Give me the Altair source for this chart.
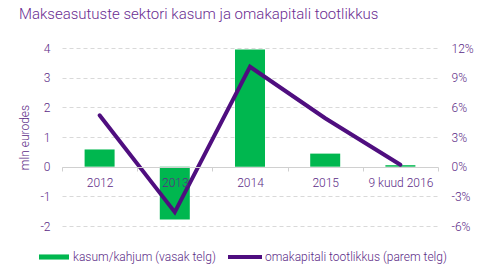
import altair as alt
import pandas as pd

categories = ["2012", "2013", "2014", "2015", "9 kuud 2016"]
kasum = [0.58, -1.78, 3.95, 0.44, 0.05]
tootlikkus = [5.2, -4.6, 10.1, 4.9, 0.2]
left_ticks = [-2, -1, 0, 1, 2, 3, 4]
right_ticks = [-6, -3, 0, 3, 6, 9, 12]
s1 = "kasum/kahjum (vasak telg)"
s2 = "omakapitali tootlikkus (parem telg)"

df = pd.DataFrame({"aasta": categories, "kasum": kasum, "tootlikkus": tootlikkus,
                   "s1": s1, "s2": s2})

FONT = "Roboto"
TXT = "#5b2a86"
GREEN = "#00b74f"
LINEC = "#4f0e7f"


def xenc():
    return alt.X("aasta:N", sort=categories, title=None,
                 scale=alt.Scale(paddingInner=0, paddingOuter=0),
                 axis=alt.Axis(orient="bottom", offset=-59, labelAngle=0,
                               domainColor="#d0d0d0", tickColor="#d0d0d0",
                               tickBand="extent", tickSize=4, labelPadding=6,
                               labelColor=TXT, labelFontSize=12, labelFont=FONT,
                               labelFontWeight=300, grid=False, zindex=1))


bars = alt.Chart(df).mark_bar(size=30).encode(
    x=xenc(),
    y=alt.Y("kasum:Q", scale=alt.Scale(domain=[-2, 4], nice=False, zero=False),
            axis=alt.Axis(values=left_ticks, title="mln eurodes", grid=True,
                          gridDash=[4, 3], gridColor="#d9d9d9", domain=False,
                          ticks=False, labelPadding=12, labelColor=TXT,
                          labelFontSize=12, labelFont=FONT, labelFontWeight=300,
                          labelExpr="'' + datum.value",
                          titleColor=TXT, titleFont=FONT, titleFontSize=12,
                          titleFontWeight=300, titlePadding=8)),
    fill=alt.Fill("s1:N", scale=alt.Scale(range=[GREEN]),
                  legend=alt.Legend(orient="none", legendX=-23, legendY=194,
                                    title=None, symbolType="M-1,-0.17H1V0.17H-1Z",
                                    symbolSize=900, symbolStrokeWidth=0,
                                    labelColor=TXT, labelFontSize=12,
                                    labelFont=FONT, labelFontWeight=300,
                                    labelLimit=300, padding=0, labelOffset=4)),
)

line = alt.Chart(df).mark_line(strokeWidth=4, strokeCap="round").encode(
    x=xenc(),
    y=alt.Y("tootlikkus:Q", scale=alt.Scale(domain=[-6, 12], nice=False, zero=False),
            axis=alt.Axis(orient="right", values=right_ticks,
                          labelExpr="datum.value + '%'", grid=False,
                          domain=False, ticks=False, title=None,
                          labelPadding=13, labelColor=TXT, labelFontSize=12,
                          labelFont=FONT, labelFontWeight=300)),
    stroke=alt.Stroke("s2:N", scale=alt.Scale(range=[LINEC]),
                      legend=alt.Legend(orient="none", legendX=164, legendY=190,
                                        title=None, symbolType="M-1,0H1",
                                        symbolSize=1156, symbolStrokeWidth=4,
                                        labelColor=TXT, labelFontSize=12,
                                        labelFont=FONT, labelFontWeight=300,
                                        labelLimit=300, padding=0, labelOffset=1)),
)

chart = alt.layer(bars, line).resolve_scale(y="independent").properties(
    width=376, height=178,
    autosize=alt.AutoSizeParams(type="none"),
    padding={"left": 62, "top": 48, "right": 43, "bottom": 50},
    background="white",
    title=alt.TitleParams("Makseasutuste sektori kasum ja omakapitali tootlikkus",
                          anchor="start", fontSize=15, fontWeight=300,
                          color="#6a2c91", font=FONT, offset=20),
).configure_view(stroke=None)

chart.save("out.html", embed_options={"renderer": "svg", "actions": False})
